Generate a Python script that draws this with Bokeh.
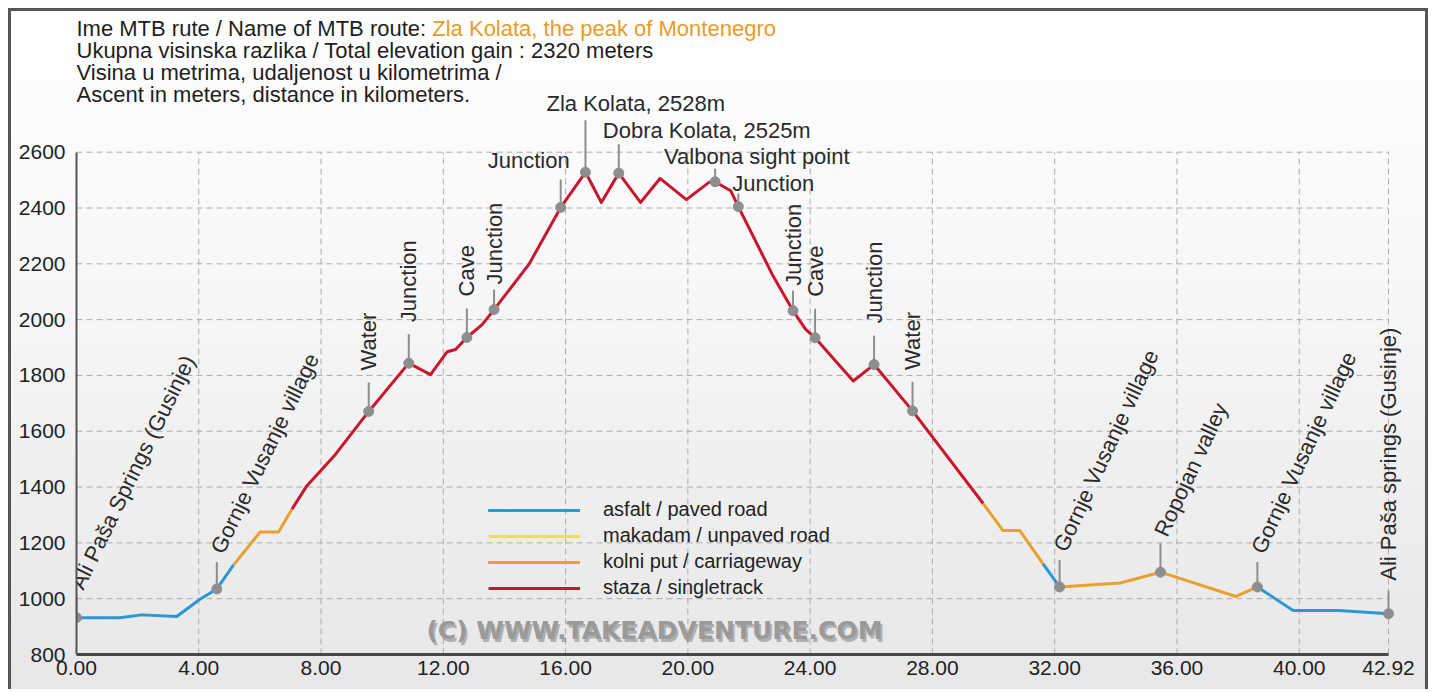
import math
from bokeh.plotting import figure
from bokeh.models import (Range1d, FixedTicker, NumeralTickFormatter, Label,
                          Legend, LegendItem, ColumnDataSource)
from bokeh.core.properties import value
from bokeh.embed import file_html
from bokeh.resources import INLINE

# ---------------- data ----------------
km = [0.0, 1.42, 2.13, 3.28, 4.04, 4.59, 5.14, 6.01, 6.61, 7.05, 7.54, 8.47,
      9.56, 10.87, 11.58, 12.13, 12.40, 12.77, 13.27, 13.66, 14.80, 15.84,
      16.65, 17.17, 17.74, 18.45, 19.09, 19.95, 20.69, 20.89, 21.40, 21.65,
      22.76, 23.44, 23.84, 24.16, 25.41, 26.09, 27.35, 29.66, 30.31, 30.86,
      31.62, 32.16, 34.14, 35.46, 37.93, 38.63, 39.80, 41.29, 42.92]
elev = [932, 932, 942, 936, 998, 1035, 1121, 1239, 1239, 1321, 1405, 1517,
        1671, 1844, 1803, 1885, 1893, 1936, 1982, 2036, 2198, 2402,
        2528, 2420, 2525, 2420, 2506, 2430, 2492, 2494, 2462, 2405,
        2162, 2032, 1967, 1935, 1780, 1839, 1673, 1341, 1244, 1244,
        1125, 1042, 1056, 1095, 1008, 1042, 958, 958, 946]

surface_breaks = [0.0, 5.14, 7.05, 29.66, 31.62, 32.16, 38.63, 42.92]
surface_kind = ["paved", "carriageway", "singletrack", "carriageway",
                "paved", "carriageway", "paved"]

surface_names = ["paved", "unpaved", "carriageway", "singletrack"]
surface_labels = ["asfalt / paved road", "makadam / unpaved road",
                  "kolni put / carriageway", "staza / singletrack"]

poi_km = [0.0, 4.59, 9.56, 10.87, 12.77, 13.66, 15.84, 16.65, 17.74, 20.89,
          21.65, 23.44, 24.16, 26.09, 27.35, 32.16, 35.46, 38.63, 42.92]
poi_name = ["Ali Paša Springs (Gusinje)", "Gornje Vusanje village", "Water",
            "Junction", "Cave", "Junction", "Junction", "Zla Kolata, 2528m",
            "Dobra Kolata, 2525m", "Valbona sight point", "Junction",
            "Junction", "Cave", "Junction", "Water", "Gornje Vusanje village",
            "Ropojan valley", "Gornje Vusanje village",
            "Ali Paša springs (Gusinje)"]

x_ticks = [0, 4, 8, 12, 16, 20, 24, 28, 32, 36, 40, 42.92]
y_ticks = [800, 1000, 1200, 1400, 1600, 1800, 2000, 2200, 2400, 2600]

header_first = "Ime MTB rute / Name of MTB route:"
route_name = "Zla Kolata, the peak of Montenegro"
header_rest = ["Ukupna visinska razlika / Total elevation gain : 2320 meters",
               "Visina u metrima, udaljenost u kilometrima /",
               "Ascent in meters, distance in kilometers."]
watermark = "(C) WWW.TAKEADVENTURE.COM"

# ---------------- styles / layout ----------------
FONT = "Liberation Sans"
FS_TICK = "21px"
FS_LABEL = "22px"
FS_HEAD = 22
COLORS = {"paved": "#2b98d4", "unpaved": "#f0e23c",
          "carriageway": "#e8a030", "singletrack": "#c8162e"}
POI_GREY = "#8e8e8e"
GRID = "#acacac"

# (kind, angle_deg, stem_px, a, b, align)
#  rotated: a = distance (px) from point to text start
#  horizontal: a = dx px, b = dy px
label_style = [
    ("r", 64, 20, 30, 0, "left"),
    ("r", 64, 27, 37, 0, "left"),
    ("r", 90, 29, 41, 0, "left"),
    ("r", 90, 29, 41, 0, "left"),
    ("r", 90, 29, 41, 0, "left"),
    ("r", 90, 20, 25, 0, "left"),
    ("h", 0, 28, 9, 47, "right"),
    ("h", 0, 52, -39, 69, "left"),
    ("h", 0, 29, -16, 43, "left"),
    ("h", 0, 13, -51, 25, "left"),
    ("h", 0, 13, -6, 23, "left"),
    ("r", 90, 20, 25, 0, "left"),
    ("r", 90, 29, 41, 0, "left"),
    ("r", 90, 29, 41, 0, "left"),
    ("r", 90, 29, 41, 0, "left"),
    ("r", 65, 27, 37, 0, "left"),
    ("r", 65, 29, 37, 0, "left"),
    ("r", 65, 25, 35, 0, "left"),
    ("r", 90, 23, 33, 0, "left"),
]

# element content 1414 x 678 with a 3px CSS border, at page (8, 8);
# the canvas takes the element's outer size (content + border)
BORDER = 3
W, H = 1414, 678
CW, CH = W + 2 * BORDER, H + BORDER
ML, MR, MT, MB = 65, 21, 5, 38
FW, FH = CW - ML - MR, CH - MT - MB
XAXIS_PX = 1312.0                              # pixel width of 0 .. 42.92
SPAN_PX = 502.3                                # pixel height of 800 .. 2600
ppm = SPAN_PX / (y_ticks[-1] - y_ticks[0])
ppk = XAXIS_PX / (x_ticks[-1] - x_ticks[0])
x_end = x_ticks[0] + FW / ppk
y_top = y_ticks[0] + FH / ppm

p = figure(width=W, height=H,
           x_range=Range1d(x_ticks[0], x_end),
           y_range=Range1d(y_ticks[0], y_top),
           output_backend="svg", toolbar_location=None,
           min_border_left=ML, min_border_right=MR,
           min_border_top=MT, min_border_bottom=MB)
p.styles = {"margin-left": "8px", "margin-top": "8px",
            "box-sizing": "content-box",
            "border-top": "3px solid #555555",
            "border-left": "3px solid #555555",
            "border-right": "3px solid #555555",
            "background": "linear-gradient(to bottom, #ffffff 0%, #f6f6f6 45%, #e7e7e7 100%)"}
p.background_fill_alpha = 0
p.border_fill_alpha = 0
p.outline_line_color = None

# axes
p.xaxis.ticker = FixedTicker(ticks=x_ticks)
p.xaxis.formatter = NumeralTickFormatter(format="0.00")
p.xaxis.bounds = (x_ticks[0], x_ticks[-1])
p.yaxis.ticker = FixedTicker(ticks=y_ticks)
p.yaxis.bounds = (y_ticks[0], y_ticks[-1])
for ax in (p.xaxis[0], p.yaxis[0]):
    ax.major_tick_out = 0
    ax.major_tick_in = 0
    ax.minor_tick_out = 0
    ax.minor_tick_in = 0
    ax.major_label_text_font = FONT
    ax.major_label_text_font_size = FS_TICK
    ax.major_label_text_color = "#222222"
p.xaxis.axis_line_width = 3
p.xaxis.axis_line_color = "#474747"
p.xaxis.major_label_standoff = 6
p.yaxis.axis_line_width = 2
p.yaxis.axis_line_color = "#555555"
p.yaxis.major_label_standoff = 11

# grid (drawn only inside the tick bounds)
p.xgrid.visible = False
p.ygrid.visible = False
vx = x_ticks[1:]
p.segment(x0=vx, y0=[y_ticks[0]] * len(vx), x1=vx, y1=[y_ticks[-1]] * len(vx),
          line_color=GRID, line_dash="6 4", line_width=1)
hy = y_ticks[1:]
p.segment(x0=[x_ticks[0]] * len(hy), y0=hy, x1=[x_ticks[-1]] * len(hy), y1=hy,
          line_color=GRID, line_dash="6 4", line_width=1)

# profile
renderers = {k: [] for k in surface_names}
for i, kind in enumerate(surface_kind):
    a, b = surface_breaks[i], surface_breaks[i + 1]
    xs = [k for k in km if a <= k <= b]
    ys = [e for k, e in zip(km, elev) if a <= k <= b]
    r = p.line(xs, ys, line_color=COLORS[kind], line_width=3, line_join="round")
    renderers[kind].append(r)
for kind in surface_names:
    if not renderers[kind]:
        # surface type not present on this route: single point, draws nothing
        renderers[kind].append(p.line(x=km[:1], y=elev[:1],
                                      line_color=COLORS[kind], line_width=3))

# points of interest
poi_elev = [elev[km.index(k)] for k in poi_km]
stem_y1 = [e + st[2] / ppm for e, st in zip(poi_elev, label_style)]
p.segment(x0=poi_km, y0=poi_elev, x1=poi_km, y1=stem_y1,
          line_color=POI_GREY, line_width=2)
p.scatter(poi_km, poi_elev, size=10, fill_color=POI_GREY, line_color=POI_GREY)

groups = {"left": dict(x=[], y=[], text=[], angle=[]),
          "right": dict(x=[], y=[], text=[], angle=[])}
for k, e, name, st in zip(poi_km, poi_elev, poi_name, label_style):
    kind, ang, stem, a, b, align = st
    g = groups[align]
    if kind == "r":
        g["x"].append(k)
        g["y"].append(e + a / ppm)
        g["angle"].append(math.radians(ang))
    else:
        g["x"].append(k + a / ppk)
        g["y"].append(e + b / ppm)
        g["angle"].append(0.0)
    g["text"].append(name)
for align, g in groups.items():
    if g["x"]:
        p.text(x="x", y="y", text="text", angle="angle",
               source=ColumnDataSource(g),
               text_font=value(FONT), text_font_size=value(FS_LABEL),
               text_color="#2a2a2a", text_align=value(align),
               text_baseline=value("middle"))

# header (screen units relative to the frame's bottom-left)
HY = [626, 604, 582, 560]
p.add_layout(Label(x=0, y=HY[0], x_units="screen", y_units="screen",
                   text=header_first, text_font=FONT, text_font_size=f"{FS_HEAD}px",
                   text_color="#1e1e1e", text_baseline="middle"))
p.add_layout(Label(x=16.172 * FS_HEAD, y=HY[0], x_units="screen", y_units="screen",
                   text=route_name, text_font=FONT, text_font_size=f"{FS_HEAD}px",
                   text_color="#eb9a2a", text_baseline="middle"))
for yy, t in zip(HY[1:], header_rest):
    p.add_layout(Label(x=0, y=yy, x_units="screen", y_units="screen",
                       text=t, text_font=FONT, text_font_size=f"{FS_HEAD}px",
                       text_color="#1e1e1e", text_baseline="middle"))

# watermark
p.add_layout(Label(x=580, y=21, x_units="screen", y_units="screen",
                   text=watermark, text_font="DejaVu Sans", text_font_style="bold",
                   text_font_size="25px", text_color="#444444", text_alpha=0.35,
                   text_align="center", text_baseline="middle"))
p.add_layout(Label(x=578, y=24, x_units="screen", y_units="screen",
                   text=watermark, text_font="DejaVu Sans", text_font_style="bold",
                   text_font_size="25px", text_color="#9a9a9a",
                   text_align="center", text_baseline="middle"))

# legend
items = [LegendItem(label=lbl, renderers=renderers[k])
         for k, lbl in zip(surface_names, surface_labels)]
legend = Legend(items=items, location=(412, 55))
legend.border_line_alpha = 0
legend.background_fill_alpha = 0
legend.glyph_width = 92
legend.glyph_height = 20
legend.label_standoff = 23
legend.spacing = 3
legend.padding = 0
legend.margin = 0
legend.label_text_font = FONT
legend.label_text_font_size = "20px"
legend.label_text_color = "#222222"
p.add_layout(legend)

open("out.html", "w").write(file_html(p, INLINE))
